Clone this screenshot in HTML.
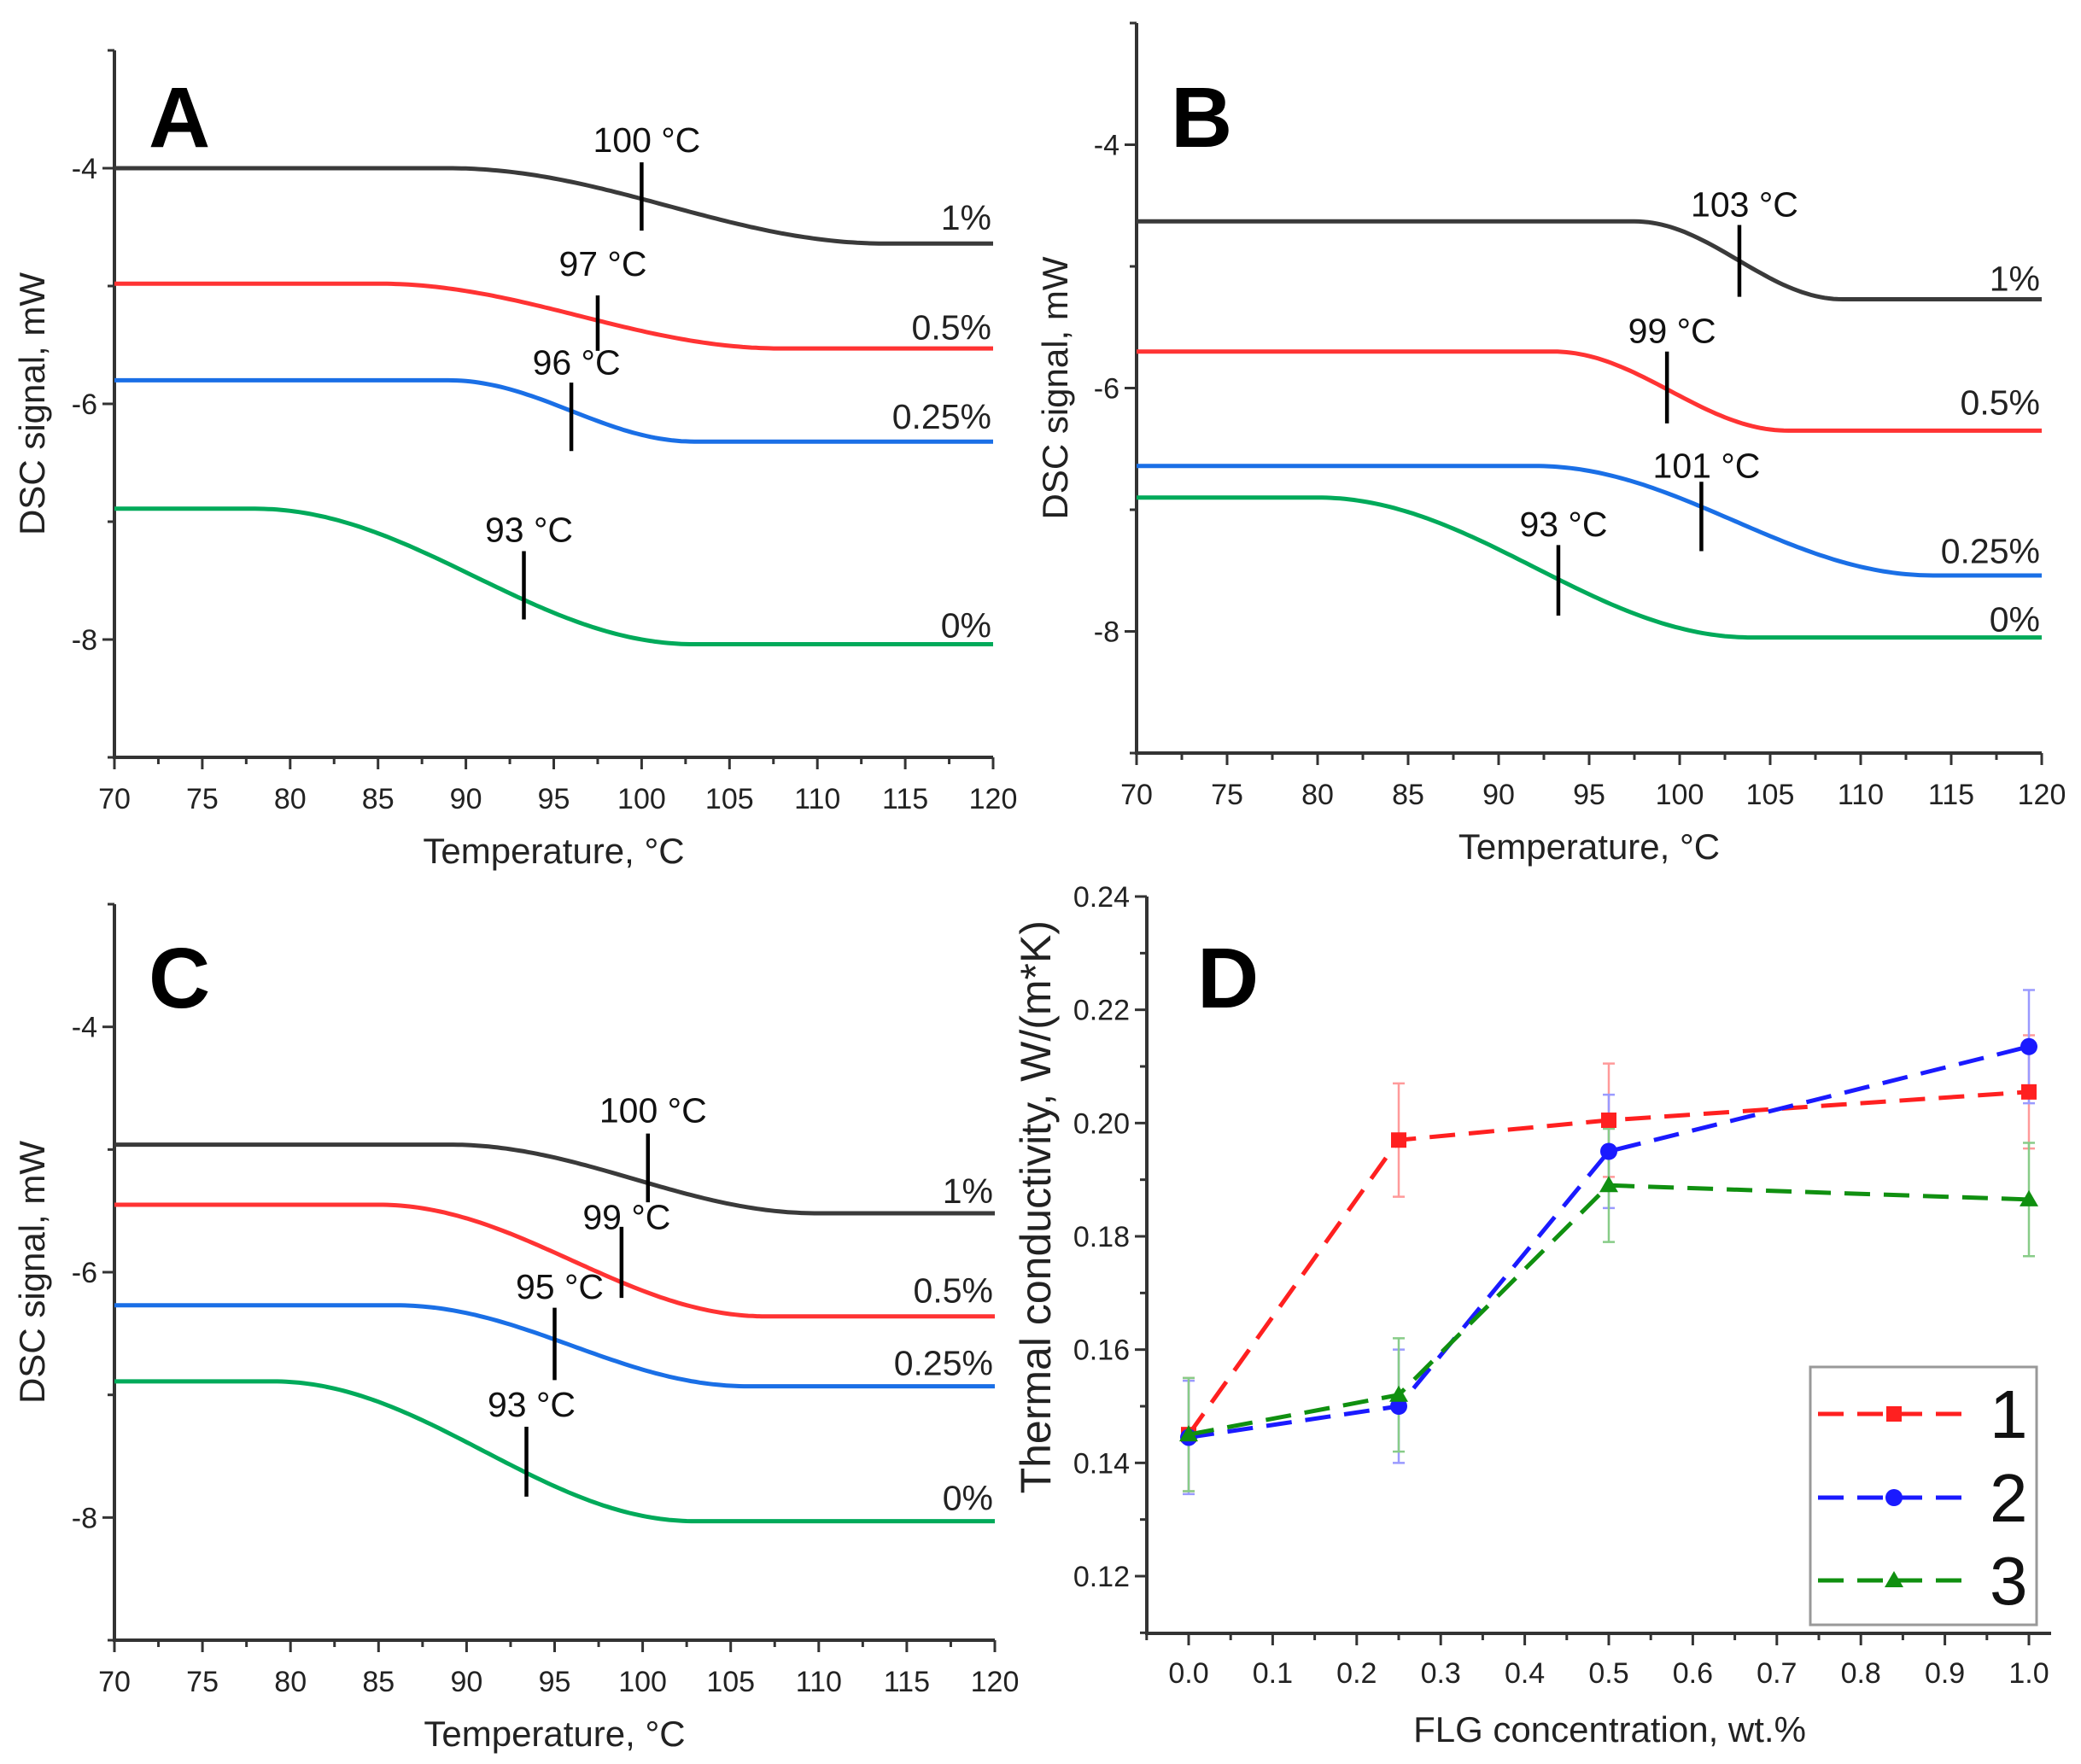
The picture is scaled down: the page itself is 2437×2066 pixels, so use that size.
<!DOCTYPE html>
<html><head><meta charset="utf-8">
<style>
html,body{margin:0;padding:0;background:#fff;}
svg{display:block;font-family:"Liberation Sans",Arial,sans-serif;}
</style></head>
<body>
<svg id="fig" width="2437" height="2066" viewBox="0 0 2437 2066" xmlns="http://www.w3.org/2000/svg">
<defs><clipPath id="dclip"><rect x="1100" y="1000" width="400" height="765"/></clipPath></defs>
</svg>
<script>
// ---------- DSC panel data ----------
const dscLabels = ["1%", "0.5%", "0.25%", "0%"];
const dscColors = ["#3a3a3a", "#ff3333", "#1a6fe6", "#00aa5a"];
// [startLevel, endLevel, transitionStartT, transitionEndT]
const dscA = [[-4.0, -4.64, 89, 114], [-4.98, -5.53, 85, 108], [-5.80, -6.32, 89, 103], [-6.89, -8.04, 78, 103]];
const dscB = [[-4.63, -5.27, 97.5, 109], [-5.70, -6.35, 93, 106], [-6.64, -7.54, 92, 114], [-6.90, -8.05, 80, 104]];
const dscC = [[-4.96, -5.52, 89, 110], [-5.45, -6.36, 85, 107], [-6.27, -6.93, 86, 106], [-6.89, -8.03, 79, 103]];
// onset markers: [temperature, tickTop, tickBottom, labelY]
const onsetA = [[100, -3.95, -4.53, -3.76], [97.5, -5.08, -5.55, -4.81], [96, -5.82, -6.40, -5.65], [93.3, -7.25, -7.83, -7.07]];
const onsetB = [[103.3, -4.66, -5.25, -4.49], [99.3, -5.70, -6.29, -5.53], [101.2, -6.77, -7.34, -6.64], [93.3, -7.29, -7.87, -7.12]];
const onsetC = [[100.3, -4.87, -5.43, -4.68], [98.8, -5.63, -6.21, -5.55], [95, -6.29, -6.88, -6.12], [93.4, -7.26, -7.83, -7.08]];
const onsetTextA = ["100 °C", "97 °C", "96 °C", "93 °C"];
const onsetTextB = ["103 °C", "99 °C", "101 °C", "93 °C"];
const onsetTextC = ["100 °C", "99 °C", "95 °C", "93 °C"];
const labelYA = [-4.42, -5.35, -6.11, -7.88];
const labelYB = [-5.10, -6.12, -7.34, -7.90];
const labelYC = [-5.34, -6.15, -6.74, -7.84];
const dscXTicks = [70, 75, 80, 85, 90, 95, 100, 105, 110, 115, 120];
const dscYTicks = [-4, -6, -8];

// ---------- Thermal conductivity data ----------
const flgConc = [0, 0.25, 0.5, 1.0];
const series1 = [0.145, 0.197, 0.2005, 0.2055];
const series2 = [0.1445, 0.150, 0.195, 0.2135];
const series3 = [0.145, 0.152, 0.189, 0.1865];
const err1 = [0.010, 0.010, 0.010, 0.010];
const err2 = [0.010, 0.010, 0.010, 0.010];
const err3 = [0.010, 0.010, 0.010, 0.010];
const seriesNames = ["1", "2", "3"];
const dXTicks = ["0.0","0.1","0.2","0.3","0.4","0.5","0.6","0.7","0.8","0.9","1.0"];
const dYTicks = ["0.12","0.14","0.16","0.18","0.20","0.22","0.24"];

const NS = "http://www.w3.org/2000/svg";
const svg = document.getElementById("fig");
function mk(tag, attrs, parent, text) {
  const e = document.createElementNS(NS, tag);
  for (const k in attrs) e.setAttribute(k, attrs[k]);
  if (text !== undefined) e.textContent = text;
  (parent || svg).appendChild(e);
  return e;
}

function dscPanel(name, letter, box, curves, onsets, onsetTexts, labelYs) {
  const g = mk("g", {});
  
  
  const xs = t => box.xL + (t - 70) / 50 * (box.xR - box.xL);
  const ys = v => box.yT + (-3 - v) / 6 * (box.yB - box.yT);
  const ax = mk("path", {d: `M${box.xL},${box.yT} V${box.yB} H${box.xR}`, stroke: "#333", "stroke-width": 4, fill: "none"}, g);
  
  
  for (let t = 70; t <= 120; t += 2.5) {
    const major = (t % 5 === 0);
    mk("line", {x1: xs(t), x2: xs(t), y1: box.yB, y2: box.yB + (major ? 14 : 8), stroke: "#333", "stroke-width": 3}, g);
  }
  dscXTicks.forEach(t => {
    const tl = mk("text", {x: xs(t), y: box.yB + 60, "font-size": 34, "text-anchor": "middle", fill: "#222"}, g, String(t));
    
    
  });
  for (let v = -3; v >= -9; v -= 1) {
    const major = (v % 2 === 0);
    mk("line", {x1: box.xL, x2: box.xL - (major ? 14 : 8), y1: ys(v), y2: ys(v), stroke: "#333", "stroke-width": 3}, g);
  }
  dscYTicks.forEach(v => {
    const tl = mk("text", {x: box.xL - 20, y: ys(v) + 12, "font-size": 34, "text-anchor": "end", fill: "#222"}, g, String(v));
    
    
  });
  const xt = mk("text", {x: (box.xL + box.xR) / 2, y: box.yB + 124, "font-size": 42, "text-anchor": "middle", fill: "#222"}, g, "Temperature, °C");
  
  
  const ytx = box.ytx, yty = (box.yT + box.yB) / 2;
  const yt = mk("text", {x: ytx, y: yty, "font-size": 42, "text-anchor": "middle", fill: "#222", transform: `rotate(-90 ${ytx} ${yty})`}, g, "DSC signal, mW");
  
  
  const pl = mk("text", {x: box.xL + 40, y: box.letterY, "font-size": 100, "font-weight": "bold", fill: "#000"}, g, letter);
  
  
  curves.forEach((c, i) => {
    const [hi, lo, t0, t1] = c;
    let d = "";
    for (let t = 70; t <= 120.001; t += 0.25) {
      let s = 0;
      if (t >= t1) s = 1; else if (t > t0) s = (1 - Math.cos(Math.PI * (t - t0) / (t1 - t0))) / 2;
      const v = hi + (lo - hi) * s;
      d += (d ? "L" : "M") + xs(t).toFixed(1) + "," + ys(v).toFixed(1);
    }
    const p = mk("path", {d: d, stroke: dscColors[i], "stroke-width": 5, fill: "none"}, g);
    
    
    const lb = mk("text", {x: box.xR - 2, y: ys(labelYs[i]) + 14, "font-size": 41, "text-anchor": "end", fill: "#222"}, g, dscLabels[i]);
    
    
  });
  onsets.forEach((o, i) => {
    const [t, a, b, ly] = o;
    const tk = mk("line", {x1: xs(t), x2: xs(t), y1: ys(a), y2: ys(b), stroke: "#000", "stroke-width": 4.5}, g);
    
    
    const ot = mk("text", {x: xs(t) + 6, y: ys(ly) + 14, "font-size": 41, "text-anchor": "middle", fill: "#111"}, g, onsetTexts[i]);
    
    
  });
}

dscPanel("a", "A", {xL: 134, xR: 1163, yT: 59, yB: 887, ytx: 52, letterY: 172}, dscA, onsetA, onsetTextA, labelYA);
dscPanel("b", "B", {xL: 1331, xR: 2391, yT: 27, yB: 882, ytx: 1250, letterY: 172}, dscB, onsetB, onsetTextB, labelYB);
dscPanel("c", "C", {xL: 134, xR: 1165, yT: 1059, yB: 1921, ytx: 52, letterY: 1180}, dscC, onsetC, onsetTextC, labelYC);

// ---------- Panel D ----------
(function () {
  const g = mk("g", {});
  
  
  const xL = 1343, xAxR = 2402, yB = 1913;
  const xs = v => 1392 + v * 984;
  const ys = v => 1846 - (v - 0.12) / 0.12 * 796;
  const ax = mk("path", {d: `M${xL},${ys(0.24)} V${yB} H${xAxR}`, stroke: "#333", "stroke-width": 4, fill: "none"}, g);
  
  
  for (let k = -1; k <= 20; k++) {
    const v = k * 0.05;
    mk("line", {x1: xs(v), x2: xs(v), y1: yB, y2: yB + (k % 2 === 0 ? 14 : 8), stroke: "#333", "stroke-width": 3}, g);
  }
  dXTicks.forEach(s => {
    const tl = mk("text", {x: xs(parseFloat(s)), y: yB + 58, "font-size": 34, "text-anchor": "middle", fill: "#222"}, g, s);
    
    
  });
  for (let k = 11; k <= 24; k++) {
    const v = k / 100;
    mk("line", {x1: xL, x2: xL - (k % 2 === 0 ? 14 : 8), y1: ys(v), y2: ys(v), stroke: "#333", "stroke-width": 3}, g);
  }
  dYTicks.forEach(s => {
    const tl = mk("text", {x: xL - 20, y: ys(parseFloat(s)) + 12, "font-size": 34, "text-anchor": "end", fill: "#222"}, g, s);
    
    
  });
  const xt = mk("text", {x: 1885, y: 2040, "font-size": 42, "text-anchor": "middle", fill: "#222"}, g, "FLG concentration, wt.%");
  
  
  const yt = mk("text", {x: 1230, y: 1078, "font-size": 50, "text-anchor": "end", fill: "#222", transform: "rotate(-90 1230 1078)"}, mk("g", {"clip-path": "url(#dclip)"}, g), "Thermal conductivity, W/(m*K)");
  
  
  const pl = mk("text", {x: 1402, y: 1180, "font-size": 100, "font-weight": "bold", fill: "#000"}, g, "D");
  
  

  const allSeries = [series1, series2, series3];
  const allErr = [err1, err2, err3];
  const cols = ["#ff2020", "#1a1aff", "#109010"];
  const ecols = ["#ff9a9a", "#9a9aff", "#88cc88"];
  const shapes = ["square", "circle", "triangle"];
  function marker(shape, x, y, col, parent) {
    let m;
    if (shape === "square") m = mk("rect", {x: x - 9, y: y - 9, width: 18, height: 18, fill: col}, parent);
    else if (shape === "circle") m = mk("circle", {cx: x, cy: y, r: 10, fill: col}, parent);
    else m = mk("polygon", {points: `${x},${y - 11} ${x + 11},${y + 8} ${x - 11},${y + 8}`, fill: col}, parent);
    return m;
  }
  allSeries.forEach((s, si) => {
    s.forEach((v, i) => {
      const x = xs(flgConc[i]), e = allErr[si][i];
      const eb = mk("path", {d: `M${x},${ys(v + e)} V${ys(v - e)} M${x - 7},${ys(v + e)} h14 M${x - 7},${ys(v - e)} h14`, stroke: ecols[si], "stroke-width": 2.5, fill: "none"}, g);
      
      
    });
  });
  allSeries.forEach((s, si) => {
    const d = s.map((v, i) => (i ? "L" : "M") + xs(flgConc[i]) + "," + ys(v)).join("");
    const ln = mk("path", {d: d, stroke: cols[si], "stroke-width": 5, fill: "none", "stroke-dasharray": "30 16"}, g);
    
    
    s.forEach((v, i) => {
      const m = marker(shapes[si], xs(flgConc[i]), ys(v), cols[si], g);
      
      
    });
  });
  const lg = mk("g", {}, g);
  
  
  mk("rect", {x: 2120, y: 1601, width: 265, height: 302, fill: "#fff", stroke: "#999", "stroke-width": 3}, lg);
  const legY = [1656, 1754, 1851];
  seriesNames.forEach((n, si) => {
    const le = mk("g", {}, lg);
    
    
    mk("line", {x1: 2129, x2: 2304, y1: legY[si], y2: legY[si], stroke: cols[si], "stroke-width": 5, "stroke-dasharray": "30 16"}, le);
    marker(shapes[si], 2218, legY[si], cols[si], le);
    mk("text", {x: 2330, y: legY[si] + 28, "font-size": 80, fill: "#111"}, le, n);
  });
})();
</script>
</body></html>
